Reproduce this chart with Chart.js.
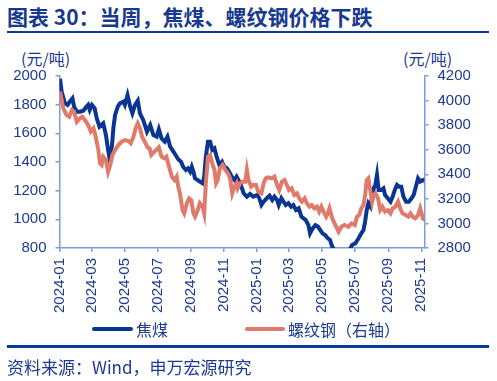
<!DOCTYPE html>
<html>
<head>
<meta charset="utf-8">
<script src="https://cdn.jsdelivr.net/npm/chart.js"></script>
<style>
  body { margin: 0; background: #fff; }
  #box { position: relative; width: 497px; height: 381px; overflow: hidden; font-family: "Noto Sans CJK SC", "Liberation Sans", sans-serif; color: #1c3a92; }
  #title { position: absolute; left: 7px; top: 4px; font-size: 21px; line-height: 25px; font-weight: bold; color: #173a8e; white-space: nowrap; }
  .rule { position: absolute; left: 7px; width: 482px; height: 2.5px; background: #0a3a9c; }
  .unit { position: absolute; top: 48px; font-size: 16px; line-height: 20px; white-space: nowrap; }
  #legend { position: absolute; top: 319px; left: 0; font-size: 16px; line-height: 20px; white-space: nowrap; }
  .lg { position: absolute; height: 4px; top: 8px; border-radius: 2px; }
  .lt { position: absolute; top: 0; }
  #src { position: absolute; left: 7px; top: 356px; font-size: 17px; line-height: 22px; white-space: nowrap; }
  #wrap { position: absolute; left: 0; top: 0; width: 497px; height: 381px; }
</style>
</head>
<body>
<div id="box">
  <div id="title">图表 30：当周，焦煤、螺纹钢价格下跌</div>
  <div class="rule" style="top:30.5px"></div>
  <div class="unit" style="left:21px">(元/吨)</div>
  <div class="unit" style="left:403px">(元/吨)</div>
  <div id="wrap"><canvas id="myChart" width="497" height="381"></canvas></div>
  <div id="legend">
    <div class="lg" style="left:92px;width:41px;background:#0b3592"></div>
    <div class="lt" style="left:136px">焦煤</div>
    <div class="lg" style="left:245px;width:40px;background:#e07a6b"></div>
    <div class="lt" style="left:288px">螺纹钢（右轴）</div>
  </div>
  <div class="rule" style="top:345px"></div>
  <div id="src">资料来源：Wind，申万宏源研究</div>
</div>
<script>
// 焦煤 (左轴)
var cokeDates = ['2024-01-02','2024-01-05','2024-01-11','2024-01-16','2024-01-20','2024-01-25','2024-01-28','2024-02-02','2024-02-08','2024-02-14',
  '2024-02-20','2024-02-23','2024-02-26','2024-03-01','2024-03-06','2024-03-10','2024-03-15','2024-03-19','2024-03-22','2024-03-27',
  '2024-03-31','2024-04-02','2024-04-07','2024-04-10','2024-04-13','2024-04-18','2024-04-22','2024-04-28','2024-05-01','2024-05-06',
  '2024-05-11','2024-05-15','2024-05-20','2024-05-25','2024-05-29','2024-06-04','2024-06-11','2024-06-17','2024-06-23','2024-06-29',
  '2024-07-03','2024-07-08','2024-07-14','2024-07-19','2024-07-24','2024-07-30','2024-08-03','2024-08-08','2024-08-13','2024-08-17',
  '2024-08-22','2024-08-26','2024-08-30','2024-09-02','2024-09-05','2024-09-08','2024-09-13','2024-09-17','2024-09-22','2024-09-25',
  '2024-09-28','2024-10-02','2024-10-06','2024-10-10','2024-10-14','2024-10-18','2024-10-23','2024-10-28','2024-11-01','2024-11-06',
  '2024-11-10','2024-11-15','2024-11-20','2024-11-24','2024-12-01','2024-12-07','2024-12-13','2024-12-19','2024-12-25','2025-01-01',
  '2025-01-05','2025-01-09','2025-01-13','2025-01-19','2025-01-24','2025-01-29','2025-02-02','2025-02-07','2025-02-10','2025-02-15',
  '2025-02-19','2025-02-23','2025-02-28','2025-03-05','2025-03-09','2025-03-14','2025-03-19','2025-03-24','2025-03-28','2025-04-01',
  '2025-04-06','2025-04-09','2025-04-14','2025-04-19','2025-04-24','2025-04-28','2025-05-02','2025-05-07','2025-05-12','2025-05-16',
  '2025-05-20','2025-05-26','2025-06-04','2025-06-13','2025-06-21','2025-06-26','2025-07-02','2025-07-08','2025-07-13','2025-07-17',
  '2025-07-20','2025-07-23','2025-07-26','2025-07-30','2025-08-02','2025-08-05','2025-08-08','2025-08-11','2025-08-14','2025-08-19',
  '2025-08-23','2025-08-26','2025-08-31','2025-09-05','2025-09-09','2025-09-13','2025-09-17','2025-09-21','2025-09-25','2025-09-29',
  '2025-10-04','2025-10-09','2025-10-14','2025-10-18','2025-10-22','2025-10-26','2025-10-30','2025-11-04','2025-11-07'];
var cokePrice = [1980,1890,1810,1798,1821,1844,1786,1751,1751,1758,
  1786,1798,1763,1798,1775,1705,1646,1660,1670,1588,
  1484,1440,1507,1646,1728,1786,1810,1821,1798,1867,
  1786,1740,1798,1828,1740,1693,1612,1658,1588,1577,
  1628,1565,1542,1577,1507,1472,1449,1419,1402,1367,
  1344,1356,1333,1367,1333,1286,1274,1263,1251,1298,
  1437,1542,1542,1484,1495,1437,1379,1402,1367,1356,
  1333,1298,1274,1298,1250,1182,1158,1177,1158,1170,
  1147,1100,1123,1147,1165,1135,1158,1135,1100,1147,
  1123,1100,1112,1088,1100,1065,1077,1019,1007,995,
  960,902,937,960,948,925,902,891,867,856,
  809,775,770,775,786,821,833,868,902,925,
  984,1065,1112,1088,1158,1216,1240,1309,1205,1205,
  1216,1170,1147,1123,1158,1205,1240,1228,1228,1158,
  1123,1123,1147,1170,1228,1286,1263,1274,1270];

// 螺纹钢 (右轴)
var rebarDates = ['2024-01-02','2024-01-08','2024-01-14','2024-01-19','2024-01-24','2024-01-28','2024-02-02','2024-02-08','2024-02-12','2024-02-17',
  '2024-02-23','2024-02-28','2024-03-04','2024-03-08','2024-03-13','2024-03-16','2024-03-19','2024-03-22','2024-03-27','2024-03-31',
  '2024-04-04','2024-04-08','2024-04-13','2024-04-19','2024-04-25','2024-05-01','2024-05-07','2024-05-12','2024-05-17','2024-05-21',
  '2024-05-25','2024-05-29','2024-06-02','2024-06-07','2024-06-12','2024-06-16','2024-06-19','2024-06-25','2024-07-03','2024-07-08',
  '2024-07-13','2024-07-17','2024-07-22','2024-07-27','2024-08-01','2024-08-05','2024-08-08','2024-08-11','2024-08-16','2024-08-19',
  '2024-08-24','2024-08-28','2024-09-01','2024-09-05','2024-09-08','2024-09-13','2024-09-17','2024-09-22','2024-09-25','2024-09-28',
  '2024-10-02','2024-10-06','2024-10-10','2024-10-14','2024-10-17','2024-10-20','2024-10-24','2024-10-29','2024-11-03','2024-11-08',
  '2024-11-12','2024-11-16','2024-11-20','2024-11-24','2024-11-26','2024-12-01','2024-12-05','2024-12-10','2024-12-13','2024-12-16',
  '2024-12-21','2024-12-25','2024-12-30','2025-01-03','2025-01-09','2025-01-13','2025-01-17','2025-01-22','2025-01-28','2025-02-02',
  '2025-02-07','2025-02-11','2025-02-16','2025-02-21','2025-02-25','2025-03-01','2025-03-06','2025-03-11','2025-03-16','2025-03-20',
  '2025-03-25','2025-03-30','2025-04-03','2025-04-08','2025-04-12','2025-04-17','2025-04-22','2025-04-26','2025-04-30','2025-05-04',
  '2025-05-09','2025-05-12','2025-05-15','2025-05-20','2025-05-26','2025-06-01','2025-06-06','2025-06-12','2025-06-19','2025-06-25',
  '2025-07-01','2025-07-05','2025-07-09','2025-07-13','2025-07-17','2025-07-20','2025-07-23','2025-07-26','2025-07-30','2025-08-02',
  '2025-08-05','2025-08-08','2025-08-13','2025-08-17','2025-08-21','2025-08-26','2025-08-31','2025-09-05','2025-09-09','2025-09-14',
  '2025-09-19','2025-09-23','2025-09-27','2025-10-03','2025-10-08','2025-10-12','2025-10-16','2025-10-21','2025-10-26','2025-10-30',
  '2025-11-04','2025-11-07'];
var rebarPrice = [4072,3937,3883,3869,3923,3910,3828,3856,3869,3842,
  3801,3747,3774,3706,3598,3489,3476,3543,3516,3421,
  3476,3557,3598,3638,3665,3679,3673,3652,3706,3774,
  3815,3774,3706,3665,3620,3610,3557,3584,3620,3543,
  3530,3543,3462,3381,3353,3381,3299,3245,3109,3082,
  3164,3204,3190,3082,3055,3109,3164,3136,3082,3327,
  3543,3557,3489,3435,3327,3353,3448,3476,3435,3408,
  3367,3245,3299,3327,3286,3330,3340,3340,3435,3353,
  3299,3313,3313,3259,3245,3327,3367,3375,3367,3381,
  3313,3272,3340,3353,3313,3272,3286,3231,3245,3204,
  3177,3204,3164,3136,3150,3123,3136,3096,3136,3096,
  3055,3082,3123,3041,2987,2933,2973,2987,2973,3000,
  2987,3055,3068,3123,3150,3231,3353,3367,3258,3177,
  3231,3245,3204,3109,3136,3096,3109,3082,3123,3136,
  3177,3123,3082,3068,3055,3082,3055,3041,3068,3123,
  3041,3028];

var tickLabels = ['2024-01','2024-03','2024-05','2024-07','2024-09','2024-11','2025-01','2025-03','2025-05','2025-07','2025-09','2025-11'];
var axisEnd = '2025-11-07';

var navy = '#1c3a92';
var axisBlue = '#7b9bdc';

function dayOf(s) {
    var p = s.split('-');
    var d = p.length > 2 ? Number(p[2]) : 1;
    return (Date.UTC(Number(p[0]), Number(p[1]) - 1, d) - Date.UTC(2024, 0, 1)) / 86400000;
}
function points(dates, vals) {
    return dates.map(function (d, i) { return { x: dayOf(d), y: vals[i] }; });
}
var tickDays = tickLabels.map(dayOf);

// 纵轴刻度不要千分位
var plainTicks = { stepSize: 200, padding: 9, color: navy, font: { family: 'Liberation Sans', size: 15 },
    callback: function (v) { return String(v); } };

let ctx = document.getElementById('myChart').getContext('2d');
let myChart = new Chart(ctx, {
    type: 'line',
    data: {
        datasets: [{
            label: '焦煤',
            data: points(cokeDates, cokePrice),
            borderColor: '#0b3592',
            borderWidth: 4,
            pointRadius: 0,
            tension: 0,
            yAxisID: 'y',
            order: 1
        }, {
            label: '螺纹钢（右轴）',
            data: points(rebarDates, rebarPrice),
            borderColor: '#e07a6b',
            borderWidth: 4,
            pointRadius: 0,
            tension: 0,
            yAxisID: 'y1',
            order: 0
        }]
    },
    options: {
        responsive: false,
        animation: false,
        layout: { padding: { left: 0, right: 0, top: 76, bottom: 0 } },
        plugins: { legend: { display: false }, tooltip: { enabled: false } },
        scales: {
            x: {
                type: 'linear',
                min: 0,
                max: dayOf(axisEnd),
                afterBuildTicks: function (scale) {
                    scale.ticks = tickDays.map(function (v) { return { value: v }; });
                },
                afterFit: function (scale) { scale.height = 133; },
                border: { color: axisBlue, width: 1.5 },
                grid: { drawOnChartArea: false, tickLength: 4, color: axisBlue, lineWidth: 1.5 },
                ticks: {
                    autoSkip: false,
                    minRotation: 90,
                    maxRotation: 90,
                    padding: 6,
                    color: navy,
                    font: { family: 'Liberation Sans', size: 15 },
                    callback: function (v) {
                        var i = tickDays.indexOf(v);
                        return i >= 0 ? tickLabels[i] : '';
                    }
                }
            },
            y: {
                position: 'left',
                min: 800,
                max: 2000,
                afterFit: function (scale) { scale.width = 59.5; },
                border: { color: axisBlue, width: 1.5 },
                grid: { drawOnChartArea: false, tickLength: 4, color: axisBlue, lineWidth: 1.5 },
                ticks: plainTicks
            },
            y1: {
                position: 'right',
                min: 2800,
                max: 4200,
                afterFit: function (scale) { scale.width = 72.5; },
                border: { color: axisBlue, width: 1.5 },
                grid: { drawOnChartArea: false, tickLength: 4, color: axisBlue, lineWidth: 1.5 },
                ticks: plainTicks
            }
        }
    }
});
</script>
</body>
</html>
